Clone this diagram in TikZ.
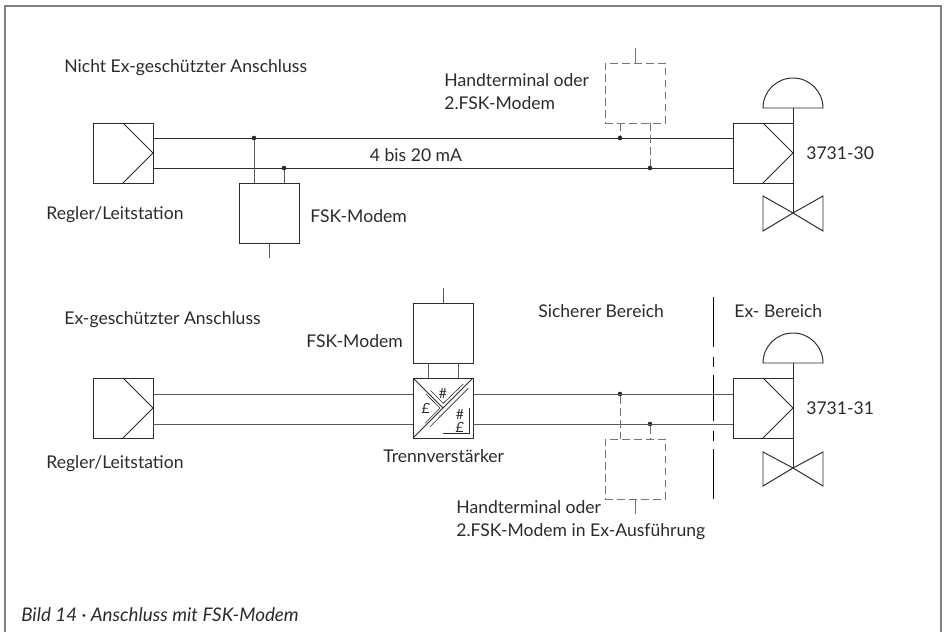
\documentclass[tikz,border=0pt]{standalone}
\usepackage{fontspec}
\setmainfont{Lato}
\usetikzlibrary{arrows,calc,positioning}
\definecolor{inkgray}{rgb}{0.17, 0.17, 0.17}
\definecolor{dashgray}{rgb}{0.45, 0.45, 0.45}
\definecolor{wiregray}{rgb}{0.35, 0.35, 0.35}
\tikzstyle{box} = [draw=inkgray, line width=0.55pt, minimum size=1.2cm, inner sep=0pt, outer sep=0pt]
\tikzstyle{dashbox} = [box, draw=dashgray, dash pattern=on 4.4pt off 2.4pt]
\tikzstyle{dot} = [circle, fill=inkgray, minimum size=2.6pt, inner sep=0pt, outer sep=0pt]
\tikzstyle{wire} = [line width=0.55pt, draw=inkgray]
\tikzstyle{dashwire} = [line width=0.55pt, draw=dashgray, dash pattern=on 4.4pt off 2.4pt]
\tikzstyle{thin wire} = [line width=0.35pt, draw=inkgray]
\tikzstyle{txt} = [anchor=west, inner sep=0pt, text=inkgray, font=\fontsize{10}{12}\selectfont]
\tikzstyle{sign} = [inner sep=0pt, text=inkgray, font=\fontsize{8}{9}\selectfont]
\begin{document}
\begin{tikzpicture}[x=0.02cm,y=-0.02cm]
\useasboundingbox (0,0) rectangle (944,632);
% frame
\draw[line width=0.7pt, draw=gray] (5,632)--(5,6)--(941,6)--(941,632);
% upper loop
\node (reg1) at (123,153) [box] {};
\node (val1) at (763,153) [box] {};
\node (mod1) at (269,213) [box] {};
\node (hand1) at (635,93) [dashbox] {};
\node (d1) at (254,138) [dot] {};
\node (d2) at (284,168) [dot] {};
\node (d3) at (620,138) [dot] {};
\node (d4) at (650,168) [dot] {};
\draw[wire] (reg1.north)--(reg1.east)--(reg1.south);
\draw[wire] (val1.north)--(val1.east)--(val1.south);
\draw[wire] (d1 -| reg1.east)--(d1 -| val1.west);
\draw[wire] (d2 -| reg1.east)--(d2 -| val1.west);
\draw[wire, draw=wiregray] (d1)--(d1 |- mod1.north);
\draw[wire, draw=wiregray] (d2)--(d2 |- mod1.north);
\coordinate (s1) at (269,258);
\draw[wire, draw=wiregray] (mod1.south)--(s1);
\draw[dashwire] (d3 |- hand1.south)--(d3);
\draw[dashwire] (d4 |- hand1.south)--(d4);
\coordinate (s2) at (635,48);
\draw[wire, draw=dashgray] (hand1.north)--(s2);
% actuator upper
\coordinate (dome1) at (793,108);
\coordinate (seat1) at (793,213);
\draw[wire] (dome1)--(seat1);
\draw[wire] (763,108) arc (180:360:30) -- cycle;
\draw[wire] (seat1)--(763,196)--(763,231)--(seat1)--(823,196)--(823,231)--cycle;
% lower loop
\node (reg2) at (123,408) [box] {};
\node (val2) at (763,408) [box] {};
\node (mod2) at (443,333) [box] {};
\node (trenn) at (443,408) [box] {};
\node (hand2) at (635,469) [dashbox] {};
\node (d5) at (620,394) [dot] {};
\node (d6) at (650,424) [dot] {};
\draw[wire] (reg2.north)--(reg2.east)--(reg2.south);
\draw[wire] (val2.north)--(val2.east)--(val2.south);
\draw[wire, draw=wiregray] (d5 -| reg2.east)--(d5 -| trenn.west);
\draw[wire, draw=wiregray] (d6 -| reg2.east)--(d6 -| trenn.west);
\draw[wire, draw=wiregray] (d5 -| trenn.east)--(d5 -| val2.west);
\draw[wire, draw=wiregray] (d6 -| trenn.east)--(d6 -| val2.west);
\coordinate (s3) at (443,288);
\draw[wire, draw=wiregray] (mod2.north)--(s3);
\draw[wire, draw=wiregray] (428,363)--(428,378);
\draw[wire, draw=wiregray] (458,363)--(458,378);
\draw[dashwire] (d5)--(d5 |- hand2.north);
\draw[dashwire] (d6)--(d6 |- hand2.north);
\coordinate (s4) at (635,514);
\draw[wire, draw=dashgray] (hand2.south)--(s4);
% isolator signs
\draw[wire] (trenn.south west)--(trenn.north east);
\draw[wire] (trenn.north west)--(trenn.center);
\draw[thin wire] (426,394)--(440,408.3)--(425,423.3);
\draw[thin wire] (430.7,390.7)--(443.3,403.3)--(463.3,384);
\draw[thin wire] (430,426.7)--(468.3,388.3);
\draw[thin wire] (443,433)--(469,433)--(469,408);
\node (n1) at (443,393) [sign] {\#};
\node (n2) at (426,408) [sign] {\textit{£}};
\node (n3) at (460,414) [sign] {\#};
\node (n4) at (460,427) [sign] {\textit{£}};
% actuator lower
\coordinate (dome2) at (793,363);
\coordinate (seat2) at (793,468);
\draw[wire] (dome2)--(seat2);
\draw[wire] (763,363) arc (180:360:30) -- cycle;
\draw[wire] (seat2)--(763,452)--(763,486)--(seat2)--(823,452)--(823,486)--cycle;
% boundary
\coordinate (b1) at (713,297);
\coordinate (b2) at (713,499);
\draw[line width=0.45pt, draw=black, dash pattern=on 28.3pt off 5.7pt on 5.7pt off 4.5pt on 26.6pt off 5.7pt on 5.7pt off 4.5pt on 28pt off 50pt] (b1)--(b2);
% texts
\node (t1) at (64,68) [txt] {Nicht Ex-geschützter Anschluss};
\node (t2) at (444,80) [txt] {Handterminal oder};
\node (t3) at (444,103) [txt] {2.FSK-Modem};
\node (t4) at (416,155) [txt, anchor=center] {4 bis 20 mA};
\node (t5) at (806,153) [txt] {3731-30};
\node (t6) at (46,215) [txt] {Regler/Leitstation};
\node (t7) at (310,216) [txt] {FSK-Modem};
\node (t8) at (64,320) [txt] {Ex-geschützter Anschluss};
\node (t9) at (306,341) [txt] {FSK-Modem};
\node (t10) at (538,311) [txt] {Sicherer Bereich};
\node (t11) at (734,311) [txt] {Ex- Bereich};
\node (t12) at (806,408) [txt] {3731-31};
\node (t13) at (46,464) [txt] {Regler/Leitstation};
\node (t14) at (383,456) [txt] {Trennverstärker};
\node (t15) at (456,507) [txt] {Handterminal oder};
\node (t16) at (456,532) [txt] {2.FSK-Modem in Ex-Ausführung};
\node (t17) at (21,615) [txt, font=\fontsize{10.7}{12}\selectfont\itshape] {Bild 14 · Anschluss mit FSK-Modem};
\end{tikzpicture}
\end{document}
